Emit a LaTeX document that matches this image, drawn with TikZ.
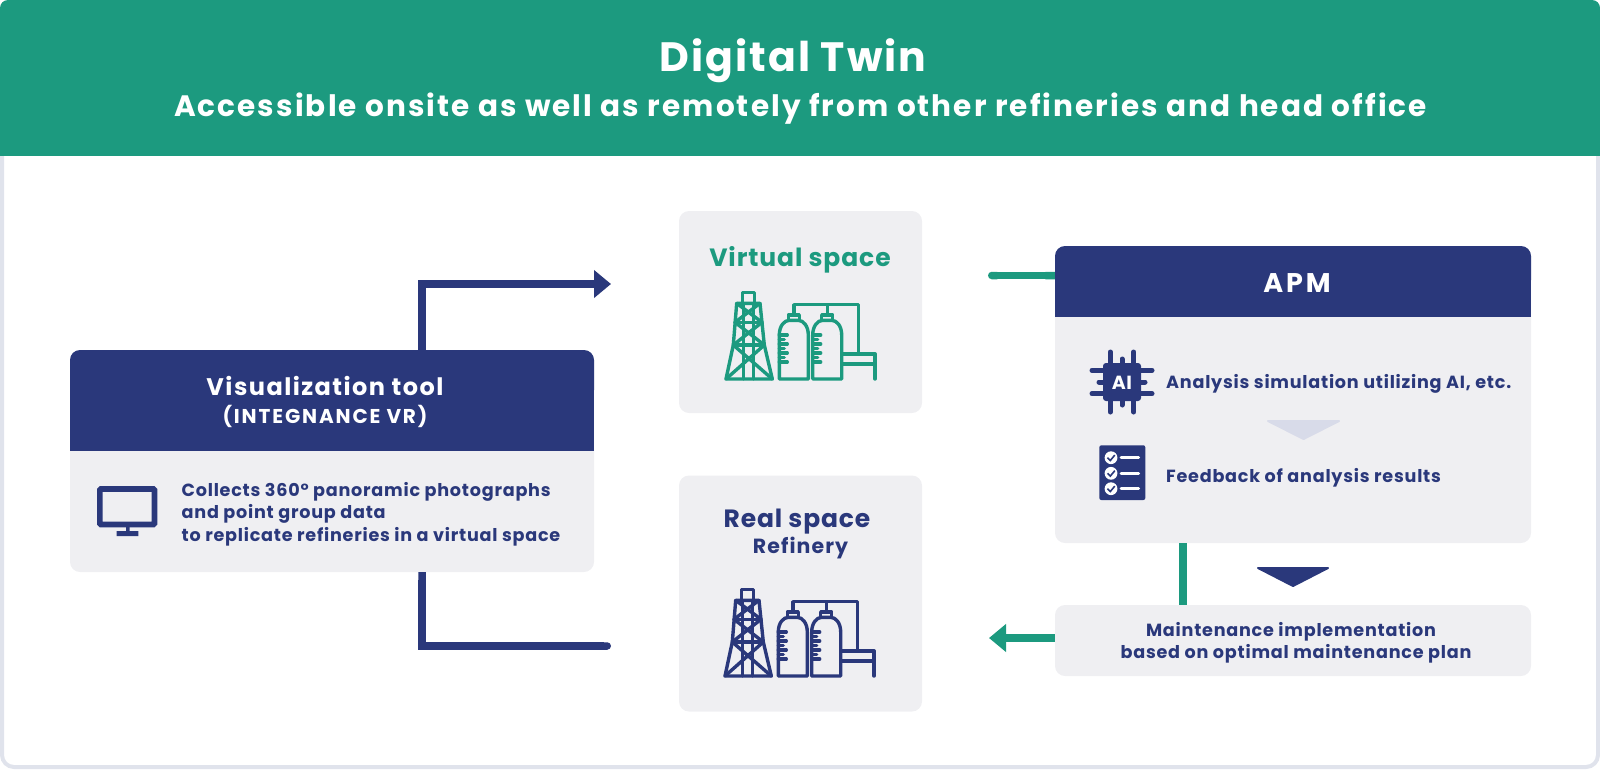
\documentclass[tikz,border=0pt]{standalone}
\usepackage{fontspec}
\setmainfont{Poppins}[LetterSpace=4.3]
\usetikzlibrary{arrows.meta}
\definecolor{greenTone}{HTML}{1C9A7F}
\definecolor{navyTone}{HTML}{2A387B}
\definecolor{boxTone}{HTML}{EFEFF2}
\definecolor{edgeTone}{HTML}{E0E3EC}
\definecolor{paleTone}{HTML}{D8DBE9}
\newcommand{\sizedFont}[2]{\bfseries\fontsize{#1}{#1}\selectfont\addfontfeature{LetterSpace=#2}}

\begin{document}
\begin{tikzpicture}
[x=1pt,y=-1pt,
  boxDecorate/.style={shape=rectangle,fill=boxTone,rounded corners=10pt,inner sep=0pt},
  headDecorate/.style={fill=navyTone,rounded corners=10pt},
  titleDecorate/.style={anchor=base,inner sep=0pt,text=white},
  textDecorate/.style={anchor=base west,inner sep=0pt,text=navyTone,font=\bfseries\fontsize{17.6}{20}\selectfont},
  middleDecorate/.style={anchor=base,inner sep=0pt,text=navyTone,font=\bfseries\fontsize{17.6}{20}\selectfont},
  lineDecorate/.style={navyTone,line width=7.5pt},
  arrowDecorate/.style={navyTone,line width=7.5pt,-{Triangle[width=27pt,length=17pt]}},
  triangleDecorate/.style={line join=round,line width=2pt},
  iconDecorate/.style={line width=3.4pt,line join=round,line cap=round},
  pics/refineryIcon/.style={code={
    %% tower
    \draw[iconDecorate] (17.7,-75.7) -- (17.7,-86.7) -- (29.3,-86.7) -- (29.3,-75.7);
    \draw[iconDecorate] (1,0) -- (8.3,-34) -- (11.7,-75.7) -- (35,-75.7) -- (39.3,-34) -- (47.3,0) -- cycle;
    \draw[iconDecorate] (18.3,-75.7) -- (18.3,0) (28.3,-75.7) -- (28.3,0);
    \draw[iconDecorate] (10,-56.7) -- (37,-56.7) (8.3,-34) -- (39.3,-34);
    \foreach \topy/\lowy/\topl/\topr/\lowl/\lowr in {
      -75.7/-56.7/11.7/35/10/37, -56.7/-34/10/37/8.3/39.3, -34/0/8.3/39.3/1/47.3}
    {
      \draw[iconDecorate] (\topl,\topy) -- (\lowr,\lowy) (\topr,\topy) -- (\lowl,\lowy);
    }
    %% tanks
    \foreach \tankx in {54.3,87.7}
    {
      \draw[iconDecorate] (\tankx,0) -- (\tankx,-44)
        .. controls (\tankx,-53) and (\tankx+5,-58.7) .. (\tankx+10,-58.7)
        -- (\tankx+19,-58.7)
        .. controls (\tankx+24,-58.7) and (\tankx+29,-53) .. (\tankx+29,-44)
        -- (\tankx+29,0) -- cycle;
      \draw[iconDecorate] (\tankx+9,-58.7) -- (\tankx+9,-64) -- (\tankx+20,-64) -- (\tankx+20,-58.7);
      \foreach \ticky/\tickx in {-44/8,-39.5/5,-35/8,-30.5/5,-26/8,-21.5/5,-17/8}
      {
        \draw[iconDecorate] (\tankx,\ticky) -- ++(\tickx,0);
      }
    }
    %% pipes
    \draw[iconDecorate] (68.8,-64) -- (68.8,-74.3) -- (133.7,-74.3) -- (133.7,-25);
    \draw[iconDecorate] (102.7,-74.3) -- (102.7,-64);
    \draw[iconDecorate] (116.7,-25) -- (150,-25) -- (150,0) (116.7,-15) -- (150,-15);
  }}]
\useasboundingbox (0,0) rectangle (1600,769);
%% frame and banner
\draw[edgeTone,line width=4pt,rounded corners=12pt] (2,120) rectangle (1598,767);
\fill[greenTone,rounded corners=8pt] (0,0) rectangle (1600,60);
\fill[greenTone] (0,30) rectangle (1600,156);
\node (titleMain) at (793,71) [titleDecorate,font=\sizedFont{41}{4.9}] {Digital Twin};
\node (titleSub) at (800.5,116.5) [titleDecorate,font=\sizedFont{29.5}{7.1}] {Accessible onsite as well as remotely from other refineries and head office};
%% boxes
\foreach \nodename/\x/\y/\w/\h in {
  vizBox/332/461/524/222, virtualBox/800.5/312/243/202, realBox/800.5/593.5/243/236,
  apmBox/1293/394.5/476/297, planBox/1293/640.5/476/71}
{
  \node (\nodename) at (\x,\y) [boxDecorate,minimum width=\w,minimum height=\h] {};
}
\fill[headDecorate] (70,350) rectangle (594,400);
\fill[navyTone] (70,375) rectangle (594,451);
\fill[headDecorate] (1055,246) rectangle (1531,290);
\fill[navyTone] (1055,270) rectangle (1531,317);
%% labels
\node (vizTitle) at (325,395.5) [titleDecorate,font=\sizedFont{24}{6.1}] {Visualization tool};
\node (vizName) at (325,423) [titleDecorate,font=\sizedFont{20}{9.3}] {(INTEGNANCE VR)};
\node (apmTitle) at (1297,292) [titleDecorate,font=\sizedFont{27}{11}] {APM};
\node (virtualTitle) at (800,266) [anchor=base,inner sep=0pt,text=greenTone,font=\sizedFont{25}{3.6}] {Virtual space};
\node (realTitle) at (797,527) [anchor=base,inner sep=0pt,text=navyTone,font=\sizedFont{25}{3.5}] {Real space};
\node (realName) at (800.5,553) [middleDecorate,font=\sizedFont{20.5}{5.3}] {Refinery};
\foreach \nodename/\x/\y/\label in {
  vizLineA/181.5/496/{Collects 360° panoramic photographs},
  vizLineB/181.5/518.5/{and point group data},
  vizLineC/181.5/541/{to replicate refineries in a virtual space},
  apmLineA/1166/388/{Analysis simulation utilizing AI, etc.},
  apmLineB/1166/482/{Feedback of analysis results}}
{
  \node (\nodename) at (\x,\y) [textDecorate] {\label};
}
\node (planLineA) at (1291,636) [middleDecorate] {Maintenance implementation};
\node (planLineB) at (1296,658) [middleDecorate] {based on optimal maintenance plan};
%% connectors
\coordinate (vizUp) at (422,350);
\coordinate (vizDown) at (422,572);
\coordinate (virtualIn) at (611,284);
\coordinate (realIn) at (611,646);
\coordinate (virtualOut) at (988,275.5);
\coordinate (planOut) at (989,638);
\coordinate (apmDown) at (1183,543);
\coordinate (planUp) at (1183,605);
\draw[arrowDecorate] (vizUp) |- (virtualIn);
\draw[lineDecorate,{Butt Cap}-{Round Cap}] (vizDown) |- (realIn);
\draw[lineDecorate,greenTone,{Round Cap}-{Butt Cap}] (virtualOut) -- (virtualOut -| apmBox.west);
\draw[arrowDecorate,greenTone] (planBox.west |- planOut) -- (planOut);
\draw[lineDecorate,greenTone] (apmDown) -- (planUp);
%% triangles
\fill[navyTone,draw=navyTone,triangleDecorate] (1258,568) -- (1328,568) -- (1293,586) -- cycle;
\fill[paleTone,draw=paleTone,triangleDecorate] (1268,421) -- (1339,421) -- (1303.5,439) -- cycle;
%% refinery pictures
\pic (virtualIcon) [greenTone] at (725,379) {refineryIcon};
\pic (realIcon) [navyTone] at (724,676) {refineryIcon};
%% monitor
\draw[navyTone,line width=5.6pt,rounded corners=1pt] (99.8,489) rectangle (154.5,524.5);
\fill[navyTone] (126,527) rectangle (129.5,532) (116.7,531) rectangle (138.3,536);
%% chip
\foreach \shift/\reach in {-11.7/30,0/23,11.7/30}
{
  \draw[navyTone,line width=5pt,line cap=round] (1122-\reach,382+\shift) -- (1122+\reach,382+\shift);
  \draw[navyTone,line width=5pt,line cap=round] (1122+\shift,382-\reach) -- (1122+\shift,382+\reach);
}
\fill[navyTone,rounded corners=3pt] (1103,363) rectangle (1141,401);
\node (chipLabel) at (1122,389) [titleDecorate,font=\sizedFont{19}{3}] {AI};
%% checklist
\fill[navyTone,rounded corners=2pt] (1099.3,445.3) rectangle (1145.3,500);
\foreach \y in {457.7,473.3,488.7}
{
  \fill[white] (1111,\y) circle (6.4pt);
  \draw[navyTone,line width=1.6pt] (1107.5,\y) -- (1110.3,\y+2.8) -- (1114.8,\y-2.6);
  \draw[white,line width=2.8pt,line cap=round] (1121,\y) -- (1138.7,\y);
}
\end{tikzpicture}
\end{document}
